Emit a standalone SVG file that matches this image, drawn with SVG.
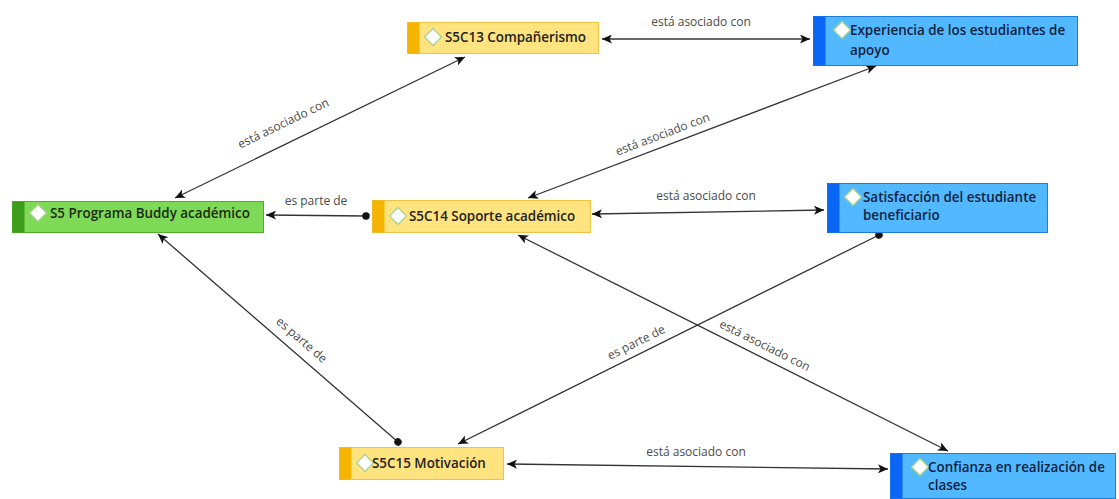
<svg xmlns="http://www.w3.org/2000/svg" width="1119" height="499" viewBox="0 0 1119 499">
<style>
.bg{fill:#ffffff}
.edge{stroke:#333333;stroke-width:1.3;fill:none}
.lbl{font-family:"Open Sans","Noto Sans",sans-serif;font-size:12px;fill:#4a4a4a;text-anchor:middle}
.nt{font-family:"Open Sans","Noto Sans",sans-serif;font-size:13.4px;font-weight:600}
.y .box{fill:#FFE37F;stroke:#EDC344;stroke-width:1}
.y .strip{fill:#F5B400}
.y .nt{fill:#222222}
.g .box{fill:#7ED957;stroke:#4DAE2C;stroke-width:1}
.g .strip{fill:#3E9E1B}
.g .nt{fill:#1c2a14}
.b .box{fill:#52B8FF;stroke:#1E7BE0;stroke-width:1}
.b .strip{fill:#0A66F5}
.b .nt{fill:#10233f}
.dia{fill:#ffffff;stroke:#A9D38C;stroke-width:1.3}
</style>
<defs>
<marker id="arr" markerUnits="userSpaceOnUse" markerWidth="11" markerHeight="9" refX="10" refY="4.5" orient="auto-start-reverse">
<path d="M0,0 L10,4.5 L0,9 L2.5,4.5 z" fill="#111111"/>
</marker>
<marker id="dot" markerUnits="userSpaceOnUse" markerWidth="9" markerHeight="9" refX="4.5" refY="4.5" orient="auto">
<circle cx="4.5" cy="4.5" r="3.7" fill="#111111"/>
</marker>
</defs>
<rect class="bg" x="0" y="0" width="1119" height="499"/>

<g id="connectors">
<line class="edge" x1="602" y1="39" x2="810" y2="39" marker-start="url(#arr)" marker-end="url(#arr)"/>
<text class="lbl" x="701" y="26">está asociado con</text>
<line class="edge" x1="175" y1="198" x2="465" y2="57" marker-start="url(#arr)" marker-end="url(#arr)"/>
<text class="lbl" x="285" y="127" transform="rotate(-25.9 285 127)">está asociado con</text>
<line class="edge" x1="366" y1="216" x2="266" y2="215" marker-start="url(#dot)" marker-end="url(#arr)"/>
<text class="lbl" x="316" y="205">es parte de</text>
<line class="edge" x1="528" y1="198" x2="876" y2="66" marker-start="url(#arr)" marker-end="url(#arr)"/>
<text class="lbl" x="664" y="138" transform="rotate(-20.8 664 138)">está asociado con</text>
<line class="edge" x1="592" y1="214" x2="824" y2="210" marker-start="url(#arr)" marker-end="url(#arr)"/>
<text class="lbl" x="706" y="200">está asociado con</text>
<line class="edge" x1="879" y1="235" x2="458" y2="444" marker-start="url(#dot)" marker-end="url(#arr)"/>
<text class="lbl" x="638" y="346" transform="rotate(-26.3 638 346)">es parte de</text>
<line class="edge" x1="518" y1="235" x2="948" y2="451" marker-start="url(#arr)" marker-end="url(#arr)"/>
<text class="lbl" x="763" y="349" transform="rotate(26.5 763 349)">está asociado con</text>
<line class="edge" x1="398" y1="442" x2="158" y2="234" marker-start="url(#dot)" marker-end="url(#arr)"/>
<text class="lbl" x="299" y="343" transform="rotate(40.9 299 343)">es parte de</text>
<line class="edge" x1="507" y1="464" x2="888" y2="469" marker-start="url(#arr)" marker-end="url(#arr)"/>
<text class="lbl" x="696" y="456">está asociado con</text>
</g>

<g id="n-s5c13" class="y">
<rect class="box" x="407.5" y="22.5" width="191" height="31"/>
<rect class="strip" x="407.5" y="22.5" width="12" height="31"/>
<path class="dia" d="M433,28.5 L441.5,37 L433,45.5 L424.5,37 z"/>
<text class="nt" x="445" y="42">S5C13 Compañerismo</text>
</g>

<g id="n-experiencia" class="b">
<rect class="box" x="813.5" y="16.5" width="264" height="49"/>
<rect class="strip" x="813.5" y="16.5" width="12" height="49"/>
<path class="dia" d="M842,21.5 L850.5,30 L842,38.5 L833.5,30 z"/>
<text class="nt" x="850" y="35">Experiencia de los estudiantes de</text>
<text class="nt" x="850" y="55">apoyo</text>
</g>

<g id="n-programa" class="g">
<rect class="box" x="12.5" y="201.5" width="251" height="31"/>
<rect class="strip" x="12.5" y="201.5" width="12" height="31"/>
<path class="dia" d="M38,204.5 L46.5,213 L38,221.5 L29.5,213 z"/>
<text class="nt" x="50" y="218">S5 Programa Buddy académico</text>
</g>

<g id="n-s5c14" class="y">
<rect class="box" x="372.5" y="200.5" width="218" height="32"/>
<rect class="strip" x="372.5" y="200.5" width="12" height="32"/>
<path class="dia" d="M398,207.5 L406.5,216 L398,224.5 L389.5,216 z"/>
<text class="nt" x="409" y="221">S5C14 Soporte académico</text>
</g>

<g id="n-satisfaccion" class="b">
<rect class="box" x="827.5" y="183.5" width="220" height="49"/>
<rect class="strip" x="827.5" y="183.5" width="12" height="49"/>
<path class="dia" d="M853,188.5 L861.5,197 L853,205.5 L844.5,197 z"/>
<text class="nt" x="863" y="202">Satisfacción del estudiante</text>
<text class="nt" x="863" y="220">beneficiario</text>
</g>

<g id="n-s5c15" class="y">
<rect class="box" x="339.5" y="447.5" width="164" height="32"/>
<rect class="strip" x="339.5" y="447.5" width="12" height="32"/>
<path class="dia" d="M365,454.5 L373.5,463 L365,471.5 L356.5,463 z"/>
<text class="nt" x="372" y="468">S5C15 Motivación</text>
</g>

<g id="n-confianza" class="b">
<rect class="box" x="890.5" y="453.5" width="225" height="45"/>
<rect class="strip" x="890.5" y="453.5" width="12" height="45"/>
<path class="dia" d="M920,458.5 L928.5,467 L920,475.5 L911.5,467 z"/>
<text class="nt" x="928" y="472">Confianza en realización de</text>
<text class="nt" x="928" y="490">clases</text>
</g>
</svg>
